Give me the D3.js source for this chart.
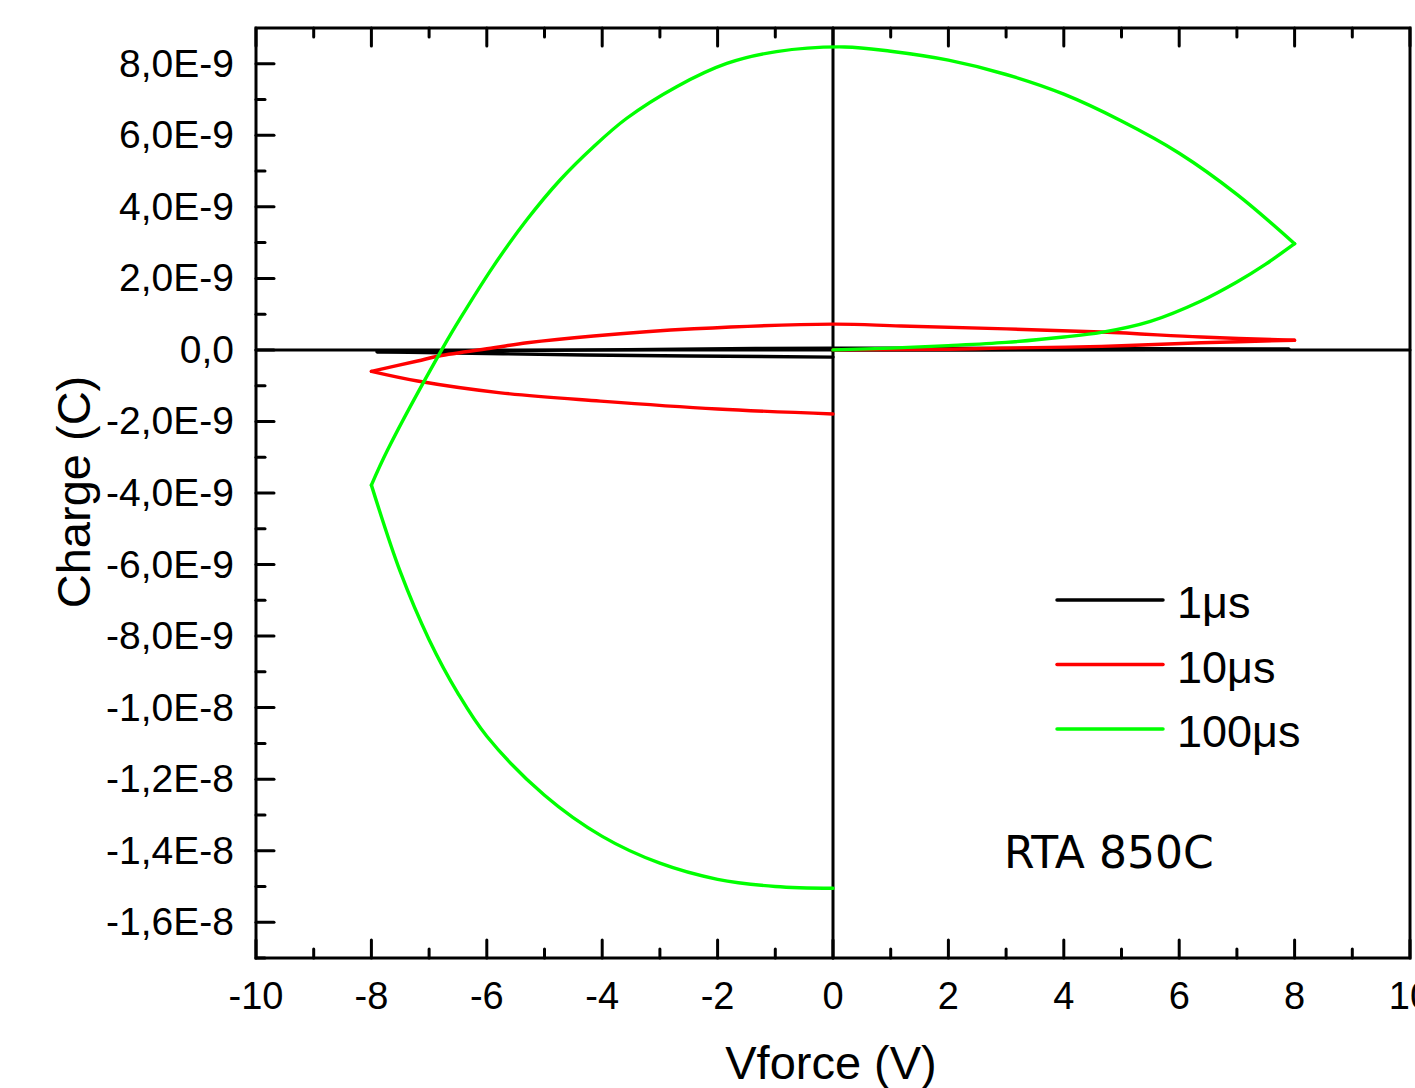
<!DOCTYPE html>
<html>
<head>
<meta charset="utf-8">
<script src="https://cdn.jsdelivr.net/npm/d3@7"></script>
<style>
  body { margin: 0; background: #fff; }
  text { font-family: "Liberation Sans", Arial, sans-serif; fill: #000; }
</style>
</head>
<body>
<div id="chart"></div>
<script>
// charge values in units of 1E-9 C, voltage in V; each series is a list of branches
var black1us = [
  [[0, 0], [4, 0.01], [7.9, 0.02]],
  [[7.9, 0.02], [4, 0.04], [0, 0.05], [-4, 0.0], [-7.9, -0.05]],
  [[-7.9, -0.05], [-4.3, -0.14], [0, -0.2]]
];
var red10us = [
  [[0, 0], [2, 0.02], [2.9, 0.05], [4.65, 0.1], [6.38, 0.2], [8, 0.27]],
  [[8, 0.27], [6.38, 0.36], [4.65, 0.5], [1.18, 0.67], [0, 0.72], [-2.41, 0.59], [-4.15, 0.39],
   [-5.3, 0.2], [-5.88, 0.06], [-6.83, -0.17], [-7.2, -0.31], [-8, -0.6]],
  [[-8, -0.6], [-7.2, -0.87], [-5.76, -1.2], [-4.03, -1.43], [-2, -1.65], [0, -1.79]]
];
var green100us = [
  [[0, 0], [1, 0.05], [2, 0.12], [3, 0.21], [4, 0.36], [4.65, 0.49], [5.5, 0.8], [6.38, 1.37],
   [7, 1.9], [7.5, 2.4], [8, 2.97]],
  [[8, 2.97], [7, 4.35], [6, 5.5], [5, 6.4], [4, 7.15], [3, 7.7], [2, 8.1], [1, 8.35], [0.2, 8.47],
   [-0.98, 8.34], [-1.84, 8.01], [-2.71, 7.36], [-3.58, 6.47], [-4.15, 5.68], [-4.73, 4.75],
   [-5.31, 3.63], [-5.89, 2.33], [-6.46, 0.88], [-6.75, 0.09], [-7.72, -2.8], [-8, -3.78]],
  [[-8, -3.78], [-7.5, -6.2], [-7, -8.1], [-6.5, -9.6], [-6, -10.8], [-5, -12.45], [-4, -13.6],
   [-3, -14.35], [-2, -14.8], [-1, -15.0], [0, -15.05]]
];

var seriesNames = ["1\u03bcs", "10\u03bcs", "100\u03bcs"];
var seriesColors = ["#000000", "#ff0000", "#00ff00"];
var seriesData = [black1us, red10us, green100us];

var xTicks = [-10, -8, -6, -4, -2, 0, 2, 4, 6, 8, 10];
var yTicks = [8, 6, 4, 2, 0, -2, -4, -6, -8, -10, -12, -14, -16];
var yTickLabels = ["8,0E-9", "6,0E-9", "4,0E-9", "2,0E-9", "0,0", "-2,0E-9", "-4,0E-9",
  "-6,0E-9", "-8,0E-9", "-1,0E-8", "-1,2E-8", "-1,4E-8", "-1,6E-8"];

var W = 1415, H = 1088;
var plotLeft = 256, plotRight = 1410, plotTop = 28, plotBottom = 958;

var svg = d3.select("#chart").append("svg")
  .attr("width", W)
  .attr("height", H);

var x = d3.scaleLinear().domain([-10, 10]).range([plotLeft, plotRight]);
var y = d3.scaleLinear().domain([-17, 9]).range([plotBottom, plotTop]);

// minor ticks every 1 unit
var xMinor = d3.range(-9, 10, 2);
var yMinor = d3.range(-17, 9, 2);

var axisG = svg.append("g").attr("stroke", "#000").attr("stroke-linecap", "round");

// bottom + top ticks (inward)
xTicks.forEach(function(v) {
  axisG.append("line").attr("x1", x(v)).attr("x2", x(v)).attr("y1", plotBottom).attr("y2", plotBottom - 18).attr("stroke-width", 3);
  axisG.append("line").attr("x1", x(v)).attr("x2", x(v)).attr("y1", plotTop).attr("y2", plotTop + 18).attr("stroke-width", 3);
});
xMinor.forEach(function(v) {
  axisG.append("line").attr("x1", x(v)).attr("x2", x(v)).attr("y1", plotBottom).attr("y2", plotBottom - 9).attr("stroke-width", 3);
  axisG.append("line").attr("x1", x(v)).attr("x2", x(v)).attr("y1", plotTop).attr("y2", plotTop + 9).attr("stroke-width", 3);
});
// left ticks (inward)
yTicks.forEach(function(v) {
  axisG.append("line").attr("x1", plotLeft).attr("x2", plotLeft + 18).attr("y1", y(v)).attr("y2", y(v)).attr("stroke-width", 3);
});
yMinor.forEach(function(v) {
  axisG.append("line").attr("x1", plotLeft).attr("x2", plotLeft + 9).attr("y1", y(v)).attr("y2", y(v)).attr("stroke-width", 3);
});

// zero lines
axisG.append("line").attr("x1", plotLeft).attr("x2", plotRight).attr("y1", y(0)).attr("y2", y(0)).attr("stroke-width", 3);
axisG.append("line").attr("x1", x(0)).attr("x2", x(0)).attr("y1", plotTop).attr("y2", plotBottom).attr("stroke-width", 3);

// curves
var line = d3.line()
  .x(function(d) { return x(d[0]); })
  .y(function(d) { return y(d[1]); })
  .curve(d3.curveCatmullRom.alpha(0.5));

seriesData.forEach(function(branches, i) {
  svg.append("g").selectAll("path")
    .data(branches)
    .enter().append("path")
    .attr("d", line)
    .attr("fill", "none")
    .attr("stroke", seriesColors[i])
    .attr("stroke-width", 3.4)
    .attr("stroke-linejoin", "round")
    .attr("stroke-linecap", "round");
});

// frame
svg.append("rect")
  .attr("x", plotLeft).attr("y", plotTop)
  .attr("width", plotRight - plotLeft).attr("height", plotBottom - plotTop)
  .attr("fill", "none").attr("stroke", "#000").attr("stroke-width", 3);

// tick labels
svg.append("g").selectAll("text")
  .data(xTicks)
  .enter().append("text")
  .attr("x", function(d) { return x(d); })
  .attr("y", 1009)
  .attr("text-anchor", "middle")
  .attr("font-size", 38)
  .text(function(d) { return d; });

svg.append("g").selectAll("text")
  .data(yTicks)
  .enter().append("text")
  .attr("x", 234)
  .attr("y", function(d) { return y(d) + 13; })
  .attr("text-anchor", "end")
  .attr("font-size", 39)
  .text(function(d, i) { return yTickLabels[i]; });

// axis titles
svg.append("text")
  .attr("x", 831).attr("y", 1079)
  .attr("text-anchor", "middle")
  .attr("font-size", 47)
  .text("Vforce (V)");

svg.append("text")
  .attr("transform", "translate(90,492) rotate(-90)")
  .attr("text-anchor", "middle")
  .attr("font-size", 47)
  .text("Charge (C)");

// legend
var legend = svg.append("g");
seriesNames.forEach(function(name, i) {
  var ly = 600 + i * 64.5;
  legend.append("line")
    .attr("x1", 1057).attr("x2", 1163)
    .attr("y1", ly).attr("y2", ly)
    .attr("stroke", seriesColors[i]).attr("stroke-width", 3.5)
    .attr("stroke-linecap", "round");
  legend.append("text")
    .attr("x", 1177).attr("y", ly + 18)
    .attr("font-size", 45)
    .text(name);
});

svg.append("text")
  .attr("x", 1004).attr("y", 868)
  .attr("font-size", 44)
  .style("font-family", "'DejaVu Sans', sans-serif")
  .text("RTA 850C");
</script>
</body>
</html>
